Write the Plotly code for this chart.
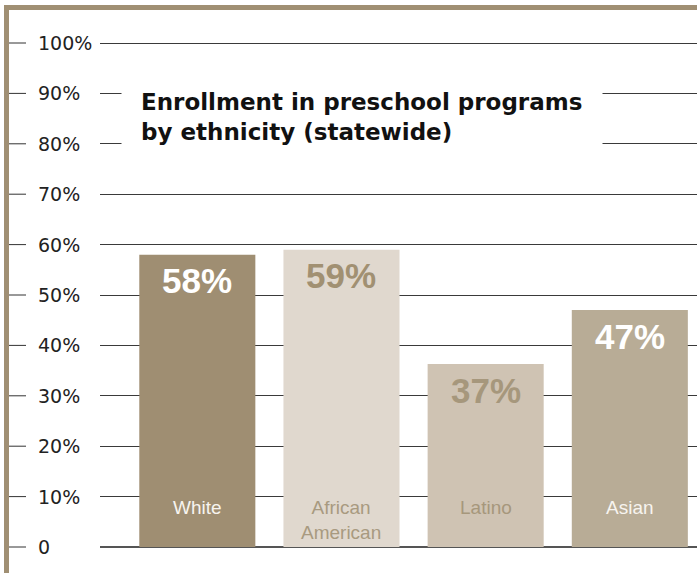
import plotly.graph_objects as go

# ---- data ----
categories = ["White", "African American", "Latino", "Asian"]
category_labels = ["White", "African<br>American", "Latino", "Asian"]
values = [58, 59, 36.3, 47]
value_labels = ["58%", "59%", "37%", "47%"]
tick_values = [0, 10, 20, 30, 40, 50, 60, 70, 80, 90, 100]
tick_labels = ["0", "10%", "20%", "30%", "40%", "50%", "60%", "70%", "80%", "90%", "100%"]
title_text = "Enrollment in preschool programs<br>by ethnicity (statewide)"

# ---- styles ----
bar_colors = ["#9f8e72", "#e0d8ce", "#cfc3b3", "#b8ac96"]
value_colors = ["#ffffff", "#a19072", "#a6977c", "#ffffff"]
cat_colors = ["#f7f4ef", "#a89a80", "#a6977c", "#f7f4ef"]
frame_color = "#a08f73"

W, H = 697, 573
def px(x):
    return x / W
def py(y):
    return 1 - y / H

fig = go.Figure(
    go.Bar(
        x=categories,
        y=values,
        marker=dict(color=bar_colors, line=dict(width=0)),
        hoverinfo="skip",
    )
)

annotations = []
# value labels
for c, v, t, col in zip(categories, values, value_labels, value_colors):
    annotations.append(dict(
        x=c, y=v, xref="x", yref="y", text=t, showarrow=False,
        yanchor="middle", yshift=-26,
        font=dict(family="Liberation Sans", size=35, color=col, weight="bold"),
    ))
# category labels
for c, t, col in zip(categories, category_labels, cat_colors):
    annotations.append(dict(
        x=c, y=0, xref="x", yref="y", text=t, showarrow=False,
        yanchor="top", yshift=52,
        font=dict(family="Liberation Sans", size=19, color=col),
    ))
# tick labels
for tv, tl in zip(tick_values, tick_labels):
    annotations.append(dict(
        x=px(36), y=tv, xref="paper", yref="y", text=tl, showarrow=False,
        xanchor="left", yanchor="middle",
        font=dict(family="DejaVu Sans", size=19, color="#222222"),
    ))
# title
annotations.append(dict(
    x=px(121), y=py(69), xref="paper", yref="paper", text=title_text,
    showarrow=False, xanchor="left", yanchor="top", align="left",
    width=442, borderpad=19, bgcolor="#ffffff",
    font=dict(family="DejaVu Sans", size=23, color="#111111", weight="bold"),
))

shapes = []
for tv in tick_values:
    shapes.append(dict(
        type="line", xref="paper", yref="y", x0=px(6), x1=px(26), y0=tv, y1=tv,
        line=dict(color="#333333", width=1),
    ))
shapes.append(dict(
    type="path", xref="paper", yref="paper",
    path=f"M 1,{py(7.5)} L {px(6.5)},{py(7.5)} L {px(6.5)},0",
    line=dict(color=frame_color, width=5),
))

y_lo, y_hi = -0.3, 101
ppu = (547 - 43) / 100.0
fig.update_layout(
    width=W, height=H,
    margin=dict(l=0, r=0, t=0, b=0),
    paper_bgcolor="#ffffff", plot_bgcolor="#ffffff",
    showlegend=False,
    bargap=0.195,
    xaxis=dict(
        domain=[px(100), 1], range=[-0.675, 3.466], type="category",
        showticklabels=False, showgrid=False, zeroline=False, showline=False, ticks="",
    ),
    yaxis=dict(
        domain=[py(547 - y_lo * ppu), py(43 - (y_hi - 100) * ppu)], range=[y_lo, y_hi],
        tickvals=tick_values, showticklabels=False, showgrid=True,
        gridcolor="#3a3a3a", gridwidth=1,
        zeroline=True, zerolinecolor="#555555", zerolinewidth=2,
        showline=False, ticks="",
    ),
    annotations=annotations,
    shapes=shapes,
)

fig.write_html("out.html")
